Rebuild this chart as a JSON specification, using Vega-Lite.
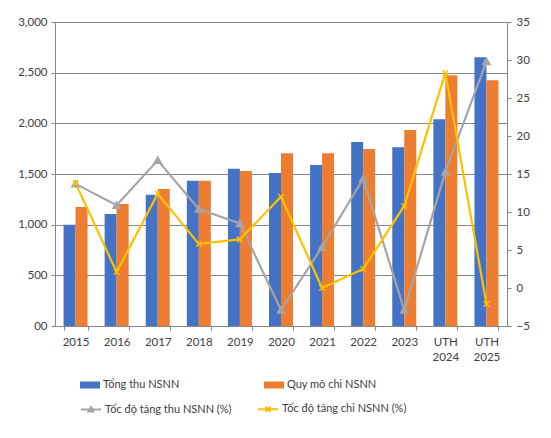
{
  "$schema": "https://vega.github.io/schema/vega-lite/v6.json",
  "width": 452,
  "height": 304,
  "autosize": {"type": "none"},
  "padding": {"left": 55, "top": 22, "right": 44, "bottom": 112},
  "background": "white",
  "config": {
    "font": "Lato",
    "view": {"stroke": null},
    "axis": {
      "labelFont": "Lato",
      "labelFontSize": 11.5,
      "labelColor": "#404040",
      "domainColor": "#868686",
      "tickColor": "#868686",
      "gridColor": "#868686",
      "tickSize": 4,
      "title": null
    },
    "legend": {
      "labelFont": "Lato",
      "labelFontSize": 11,
      "labelColor": "#404040",
      "orient": "none",
      "direction": "horizontal",
      "columns": 2,
      "title": null
    }
  },
  "datasets": {
    "bars": [
      {"year": "2015", "series": "Tổng thu NSNN", "value": 1000},
      {"year": "2015", "series": "Quy mô chi NSNN", "value": 1175},
      {"year": "2016", "series": "Tổng thu NSNN", "value": 1106},
      {"year": "2016", "series": "Quy mô chi NSNN", "value": 1205},
      {"year": "2017", "series": "Tổng thu NSNN", "value": 1294},
      {"year": "2017", "series": "Quy mô chi NSNN", "value": 1353},
      {"year": "2018", "series": "Tổng thu NSNN", "value": 1433},
      {"year": "2018", "series": "Quy mô chi NSNN", "value": 1433},
      {"year": "2019", "series": "Tổng thu NSNN", "value": 1551},
      {"year": "2019", "series": "Quy mô chi NSNN", "value": 1530},
      {"year": "2020", "series": "Tổng thu NSNN", "value": 1510},
      {"year": "2020", "series": "Quy mô chi NSNN", "value": 1706},
      {"year": "2021", "series": "Tổng thu NSNN", "value": 1588},
      {"year": "2021", "series": "Quy mô chi NSNN", "value": 1706},
      {"year": "2022", "series": "Tổng thu NSNN", "value": 1815},
      {"year": "2022", "series": "Quy mô chi NSNN", "value": 1746},
      {"year": "2023", "series": "Tổng thu NSNN", "value": 1765},
      {"year": "2023", "series": "Quy mô chi NSNN", "value": 1933},
      {"year": "UTH 2024", "series": "Tổng thu NSNN", "value": 2041},
      {"year": "UTH 2024", "series": "Quy mô chi NSNN", "value": 2475},
      {"year": "UTH 2025", "series": "Tổng thu NSNN", "value": 2653},
      {"year": "UTH 2025", "series": "Quy mô chi NSNN", "value": 2426}
    ],
    "rates": [
      {"year": "2015", "series": "Tốc độ tăng thu NSNN (%)", "rate": 13.7},
      {"year": "2016", "series": "Tốc độ tăng thu NSNN (%)", "rate": 10.9},
      {"year": "2017", "series": "Tốc độ tăng thu NSNN (%)", "rate": 16.8},
      {"year": "2018", "series": "Tốc độ tăng thu NSNN (%)", "rate": 10.4},
      {"year": "2019", "series": "Tốc độ tăng thu NSNN (%)", "rate": 8.5},
      {"year": "2020", "series": "Tốc độ tăng thu NSNN (%)", "rate": -2.9},
      {"year": "2021", "series": "Tốc độ tăng thu NSNN (%)", "rate": 5.4},
      {"year": "2022", "series": "Tốc độ tăng thu NSNN (%)", "rate": 14.4},
      {"year": "2023", "series": "Tốc độ tăng thu NSNN (%)", "rate": -2.9},
      {"year": "UTH 2024", "series": "Tốc độ tăng thu NSNN (%)", "rate": 15.3},
      {"year": "UTH 2025", "series": "Tốc độ tăng thu NSNN (%)", "rate": 29.8},
      {"year": "2015", "series": "Tốc độ tăng chi NSNN (%)", "rate": 13.8},
      {"year": "2016", "series": "Tốc độ tăng chi NSNN (%)", "rate": 2.1},
      {"year": "2017", "series": "Tốc độ tăng chi NSNN (%)", "rate": 12.4},
      {"year": "2018", "series": "Tốc độ tăng chi NSNN (%)", "rate": 5.8},
      {"year": "2019", "series": "Tốc độ tăng chi NSNN (%)", "rate": 6.4},
      {"year": "2020", "series": "Tốc độ tăng chi NSNN (%)", "rate": 12.0},
      {"year": "2021", "series": "Tốc độ tăng chi NSNN (%)", "rate": 0.0},
      {"year": "2022", "series": "Tốc độ tăng chi NSNN (%)", "rate": 2.5},
      {"year": "2023", "series": "Tốc độ tăng chi NSNN (%)", "rate": 10.8},
      {"year": "UTH 2024", "series": "Tốc độ tăng chi NSNN (%)", "rate": 28.3},
      {"year": "UTH 2025", "series": "Tốc độ tăng chi NSNN (%)", "rate": -2.1}
    ]
  },
  "layer": [
    {
      "data": {"name": "bars"},
      "mark": {"type": "bar"},
      "encoding": {
        "x": {
          "field": "year",
          "type": "nominal",
          "sort": null,
          "scale": {"paddingInner": 0.416, "paddingOuter": 0.208},
          "axis": {
            "labelAngle": 0,
            "tickBand": "extent",
            "labelPadding": 6,
            "labelLineHeight": 15,
            "labelExpr": "split(datum.label, ' ')"
          }
        },
        "xOffset": {"field": "series", "sort": ["Tổng thu NSNN", "Quy mô chi NSNN"]},
        "y": {
          "field": "value",
          "type": "quantitative",
          "scale": {"domain": [0, 3000]},
          "axis": {
            "values": [0, 500, 1000, 1500, 2000, 2500, 3000],
            "labelExpr": "datum.value == 0 ? '00' : format(datum.value, ',')",
            "labelPadding": 4
          }
        },
        "color": {
          "field": "series",
          "type": "nominal",
          "scale": {"domain": ["Tổng thu NSNN", "Quy mô chi NSNN"], "range": ["#4472C4", "#ED7D31"]},
          "legend": {
            "legendX": 25,
            "legendY": 353,
            "symbolType": "M-1,-0.35H1V0.35H-1Z",
            "symbolSize": 400,
            "symbolStrokeWidth": 0,
            "labelOffset": 3,
            "columnPadding": 84
          }
        }
      }
    },
    {
      "data": {"name": "rates"},
      "encoding": {
        "x": {"field": "year", "type": "nominal", "sort": null},
        "y": {
          "field": "rate",
          "type": "quantitative",
          "scale": {"domain": [-5, 35]},
          "axis": {
            "orient": "right",
            "values": [-5, 0, 5, 10, 15, 20, 25, 30, 35],
            "grid": false,
            "labelPadding": 5
          }
        },
        "stroke": {
          "field": "series",
          "type": "nominal",
          "scale": {"domain": ["Tốc độ tăng thu NSNN (%)", "Tốc độ tăng chi NSNN (%)"], "range": ["#A5A5A5", "#FFC000"]},
          "legend": {
            "legendX": 25,
            "legendY": 376,
            "symbolSize": 400,
            "symbolStrokeWidth": 2,
            "labelOffset": 3,
            "columnPadding": 22,
            "encode": {
              "symbols": {
                "update": {
                  "shape": {"signal": "datum.value == 'Tốc độ tăng thu NSNN (%)' ? 'M-1,0H1M-0.25,0.2L0,-0.25L0.25,0.2Z' : 'M-1,0H1M-0.25,-0.25L0.25,0.25M-0.25,0.25L0.25,-0.25'"},
                  "fill": {"signal": "datum.value == 'Tốc độ tăng thu NSNN (%)' ? '#A5A5A5' : 'transparent'"}
                }
              }
            }
          }
        }
      },
      "layer": [
        {"mark": {"type": "line", "strokeWidth": 2.2}},
        {
          "transform": [{"filter": "datum.series == 'Tốc độ tăng thu NSNN (%)'"}],
          "mark": {"type": "point", "shape": "triangle-up", "filled": true, "fill": "#A5A5A5", "size": 40, "opacity": 1}
        },
        {
          "transform": [{"filter": "datum.series == 'Tốc độ tăng chi NSNN (%)'"}],
          "mark": {"type": "point", "shape": "M-1,-1L1,1M-1,1L1,-1", "filled": false, "size": 30, "strokeWidth": 1.5, "opacity": 1}
        }
      ]
    }
  ],
  "resolve": {"scale": {"y": "independent"}}
}
